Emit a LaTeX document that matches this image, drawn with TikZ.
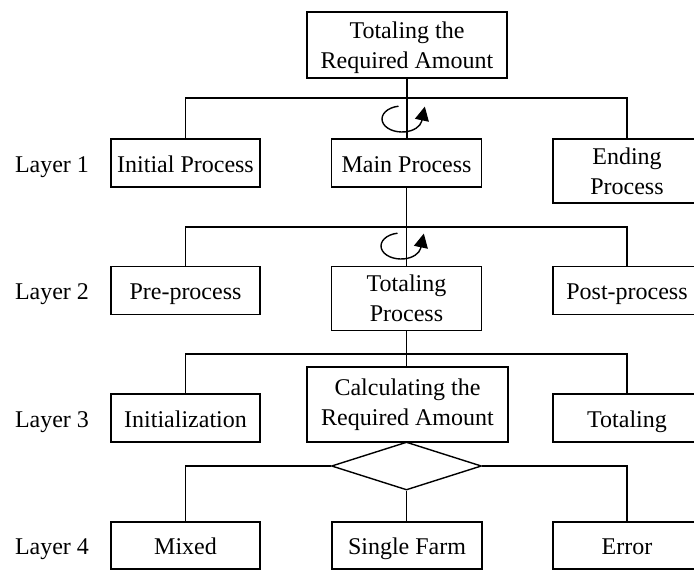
\documentclass[tikz,border=0pt]{standalone}
\usepackage{fontspec}
\setmainfont{Liberation Serif}
\usetikzlibrary{shapes.geometric,arrows.meta,calc}
\newcommand\myone{\rule[-6pt]{0pt}{30pt}}
\newcommand\mytop[1]{\rule{0pt}{#1}}
\newcommand\mybot{\rule[-6pt]{0pt}{0pt}}
\begin{document}
\begin{tikzpicture}[x=1pt,y=1pt,
  every node/.style={font=\fontsize{24}{30}\selectfont},
  box/.style={draw, line width=1.4pt, rectangle, inner sep=0pt, align=center},
  conn/.style={line width=1.4pt},
  loopline/.style={line width=1.4pt, -{Triangle[length=14pt,width=14pt]}}
]
\useasboundingbox (0,0) rectangle (694,-570);
\clip (0,0) rectangle (694,-570);
\fill[white] (0,0) rectangle (694,-570);

% nodes
\node[box, minimum width=200pt, minimum height=66pt] (top) at (407,-45) {\mytop{22pt}Totaling the\\Required Amount\mybot};

\node[box, minimum width=149pt, minimum height=48pt] (init) at (185.5,-163) {\myone Initial Process};
\node[box, minimum width=150pt, minimum height=48pt] (main) at (406.5,-163) {\myone Main Process};
\node[box, minimum width=148pt, minimum height=64pt] (ending) at (627,-171) {\mytop{22pt}Ending\\Process\mybot};

\node[box, minimum width=149pt, minimum height=48pt] (pre) at (185.5,-290.5) {\myone Pre-process};
\node[box, minimum width=150pt, minimum height=64pt] (tot) at (406.5,-298.5) {\mytop{22pt}Totaling\\Process\mybot};
\node[box, minimum width=148pt, minimum height=48pt] (post) at (627,-290.5) {\myone Post-process};

\node[box, minimum width=149pt, minimum height=48pt] (ini) at (185.5,-418) {\myone Initialization};
\node[box, minimum width=201pt, minimum height=75pt] (calc) at (407.5,-404.5) {\mytop{17pt}Calculating the\\Required Amount\mybot};
\node[box, minimum width=148pt, minimum height=48pt] (totl) at (627,-418) {\myone Totaling};

\node[draw, diamond, line width=1.4pt, inner sep=0pt, minimum width=150pt, minimum height=48pt] (dia) at (406.5,-466) {};

\node[box, minimum width=149pt, minimum height=47pt] (mix) at (185.5,-545.5) {\myone Mixed};
\node[box, minimum width=150pt, minimum height=47pt] (single) at (407,-545.5) {\myone Single Farm};
\node[box, minimum width=148pt, minimum height=47pt] (err) at (627,-545.5) {\myone Error};

% layer labels
\node[inner sep=0pt] (l1) at (52,-163) {\myone Layer 1};
\node[inner sep=0pt] (l2) at (52,-290.5) {\myone Layer 2};
\node[inner sep=0pt] (l3) at (52,-418) {\myone Layer 3};
\node[inner sep=0pt] (l4) at (52,-545.5) {\myone Layer 4};

% connectors
\coordinate (h1) at (407,-98);
\coordinate (h2) at (407,-227);
\coordinate (h3) at (407,-354);

\draw[conn] (top.south) -- (top.south |- main.north);
\draw[conn] (init.north) |- (h1) -| (ending.north);

\draw[conn] (main.south) -- (tot.north);
\draw[conn] (pre.north) |- (h2) -| (post.north);

\draw[conn] (tot.south) -- (tot.south |- calc.north);
\draw[conn] (ini.north) |- (h3) -| (totl.north);

\draw[conn] (dia.west) -| (mix.north);
\draw[conn] (dia.east) -| (err.north);
\draw[conn] (dia.south) -- (dia.south |- single.north);

% loop symbols
\coordinate (c1) at (402,-119);
\coordinate (c2) at (401,-246);
\draw[loopline] ($(c1)+(100:20 and 13)$) arc[start angle=100, end angle=350, x radius=20, y radius=13] -- ++(78:15);
\draw[loopline] ($(c2)+(100:20 and 13)$) arc[start angle=100, end angle=350, x radius=20, y radius=13] -- ++(78:15);
\end{tikzpicture}
\end{document}
